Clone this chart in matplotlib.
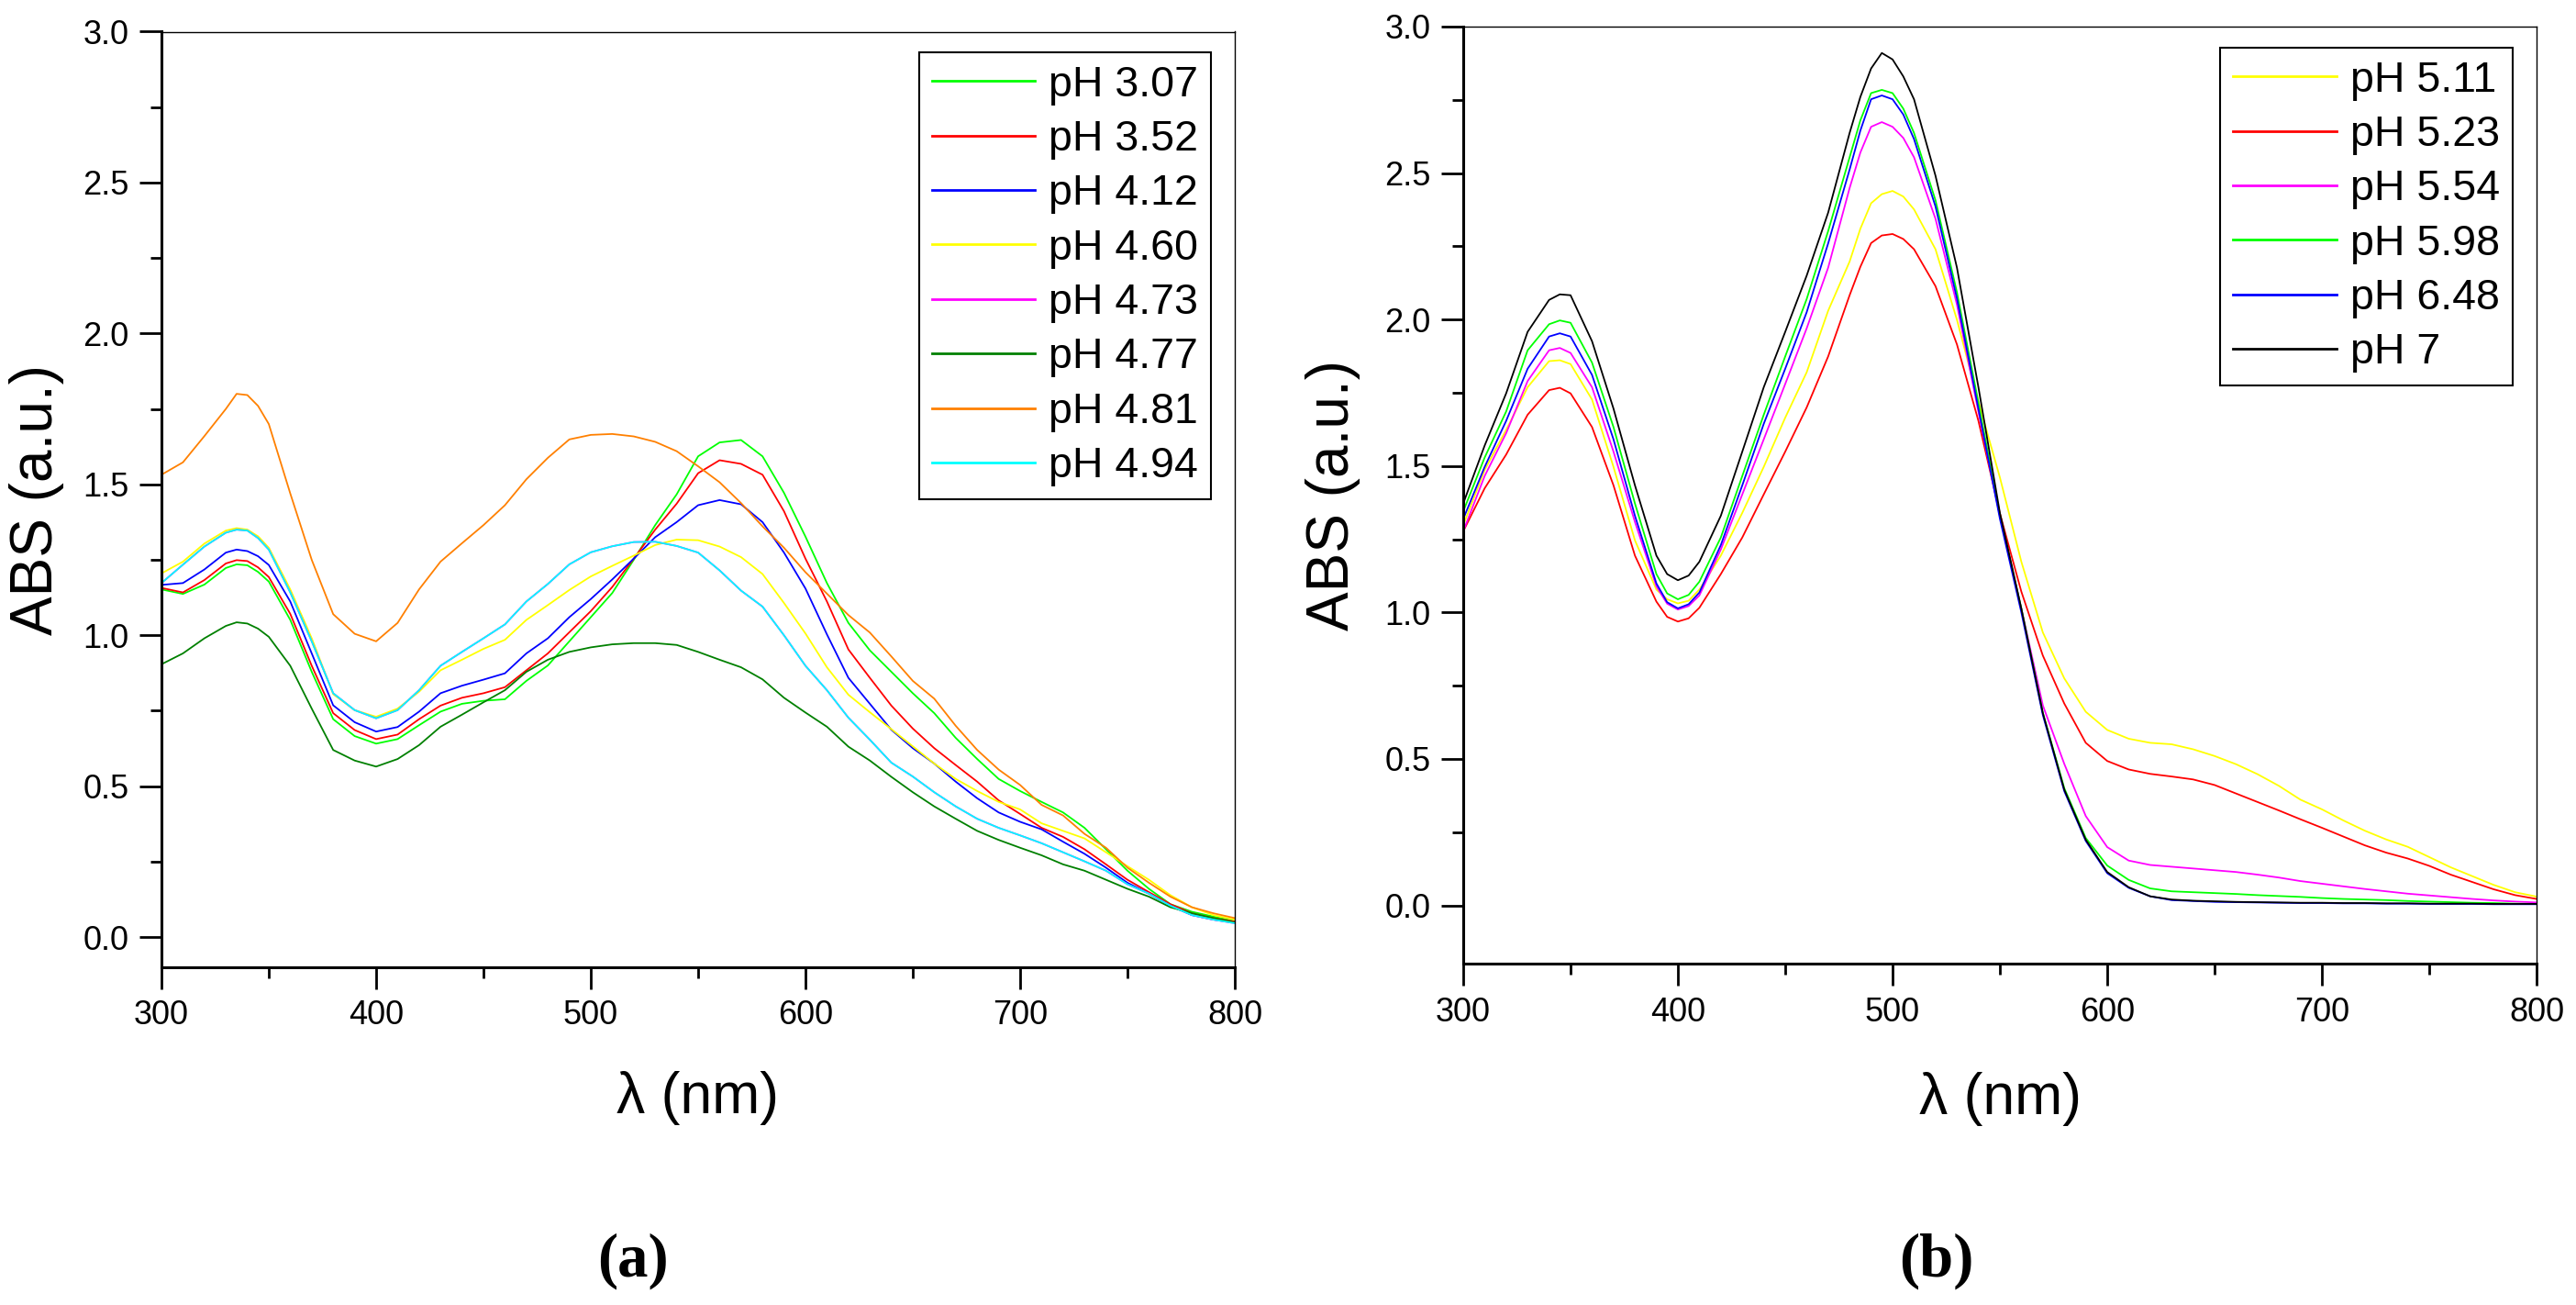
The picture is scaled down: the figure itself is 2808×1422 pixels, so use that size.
import matplotlib
matplotlib.use("Agg")
import matplotlib.pyplot as plt
from matplotlib.ticker import MultipleLocator

plt.rcParams["font.family"] = ["Liberation Sans", "DejaVu Sans"]

# ---- (a) acid range -------------------------------------------------
wl_a = [300, 310, 320, 330, 335, 340, 345, 350, 360, 370, 380, 390, 400,
        410, 420, 430, 440, 450, 460, 470, 480, 490, 500, 510, 520, 530,
        540, 550, 560, 570, 580, 590, 600, 610, 620, 630, 640, 650, 660,
        670, 680, 690, 700, 710, 720, 730, 740, 750, 760, 770, 780, 790, 800]

abs_307 = [1.152, 1.137, 1.168, 1.223, 1.235, 1.232, 1.210, 1.178, 1.051,
           0.879, 0.722, 0.666, 0.641, 0.656, 0.702, 0.747, 0.773, 0.783,
           0.788, 0.849, 0.900, 0.980, 1.060, 1.140, 1.250, 1.365, 1.467,
           1.593, 1.639, 1.647, 1.593, 1.472, 1.327, 1.173, 1.041, 0.950,
           0.879, 0.808, 0.742, 0.660, 0.590, 0.524, 0.484, 0.448, 0.413,
           0.362, 0.291, 0.220, 0.160, 0.109, 0.084, 0.068, 0.053]
abs_352 = [1.157, 1.142, 1.183, 1.238, 1.249, 1.246, 1.225, 1.193, 1.071,
           0.899, 0.742, 0.686, 0.656, 0.671, 0.722, 0.767, 0.793, 0.808,
           0.828, 0.884, 0.940, 1.010, 1.080, 1.160, 1.254, 1.350, 1.436,
           1.537, 1.580, 1.568, 1.532, 1.411, 1.254, 1.112, 0.953, 0.859,
           0.767, 0.691, 0.626, 0.570, 0.515, 0.453, 0.408, 0.362, 0.332,
           0.291, 0.241, 0.190, 0.149, 0.109, 0.079, 0.063, 0.051]
abs_412 = [1.167, 1.173, 1.218, 1.274, 1.284, 1.279, 1.262, 1.233, 1.112,
           0.940, 0.768, 0.712, 0.681, 0.696, 0.747, 0.808, 0.833, 0.853,
           0.874, 0.940, 0.990, 1.060, 1.120, 1.185, 1.254, 1.325, 1.375,
           1.431, 1.448, 1.434, 1.375, 1.274, 1.155, 1.003, 0.859, 0.773,
           0.687, 0.626, 0.575, 0.515, 0.460, 0.413, 0.382, 0.357, 0.316,
           0.276, 0.230, 0.180, 0.144, 0.104, 0.073, 0.058, 0.048]
abs_460 = [1.205, 1.244, 1.304, 1.347, 1.355, 1.350, 1.328, 1.290, 1.152,
           0.990, 0.805, 0.752, 0.730, 0.757, 0.813, 0.884, 0.919, 0.955,
           0.985, 1.051, 1.100, 1.150, 1.195, 1.230, 1.264, 1.299, 1.317,
           1.315, 1.294, 1.259, 1.203, 1.107, 1.006, 0.894, 0.803, 0.745,
           0.689, 0.632, 0.575, 0.524, 0.484, 0.448, 0.423, 0.377, 0.352,
           0.327, 0.281, 0.235, 0.190, 0.139, 0.099, 0.073, 0.058]
abs_494 = [1.173, 1.234, 1.294, 1.340, 1.350, 1.347, 1.322, 1.284, 1.142,
           0.980, 0.808, 0.752, 0.725, 0.752, 0.818, 0.899, 0.945, 0.990,
           1.036, 1.112, 1.170, 1.235, 1.275, 1.295, 1.309, 1.310, 1.296,
           1.274, 1.215, 1.148, 1.095, 1.000, 0.899, 0.818, 0.727, 0.654,
           0.578, 0.532, 0.480, 0.433, 0.392, 0.362, 0.337, 0.311, 0.281,
           0.251, 0.220, 0.175, 0.144, 0.104, 0.073, 0.058, 0.046]
# pH 4.73 is not visible in the source: it sits under the pH 4.94 trace
abs_473 = list(abs_494)
abs_477 = [0.904, 0.940, 0.990, 1.031, 1.043, 1.039, 1.022, 0.995, 0.899,
           0.757, 0.620, 0.585, 0.565, 0.590, 0.636, 0.697, 0.737, 0.778,
           0.818, 0.879, 0.919, 0.945, 0.960, 0.970, 0.974, 0.974, 0.968,
           0.945, 0.919, 0.894, 0.854, 0.793, 0.744, 0.697, 0.631, 0.585,
           0.531, 0.480, 0.433, 0.392, 0.352, 0.322, 0.296, 0.271, 0.241,
           0.220, 0.190, 0.160, 0.134, 0.099, 0.079, 0.063, 0.048]
abs_481 = [1.532, 1.573, 1.660, 1.750, 1.800, 1.796, 1.760, 1.700, 1.470,
           1.250, 1.070, 1.005, 0.980, 1.041, 1.152, 1.244, 1.305, 1.365,
           1.431, 1.517, 1.588, 1.649, 1.664, 1.667, 1.659, 1.641, 1.610,
           1.560, 1.507, 1.438, 1.361, 1.290, 1.209, 1.138, 1.067, 1.009,
           0.930, 0.849, 0.790, 0.700, 0.620, 0.555, 0.504, 0.438, 0.403,
           0.342, 0.296, 0.230, 0.180, 0.134, 0.099, 0.079, 0.063]

labels_a = ["pH 3.07", "pH 3.52", "pH 4.12", "pH 4.60",
            "pH 4.73", "pH 4.77", "pH 4.81", "pH 4.94"]
series_a = [abs_307, abs_352, abs_412, abs_460,
            abs_473, abs_477, abs_481, abs_494]
colors_a = ["#00ff00", "#ff0000", "#0000ff", "#ffff00",
            "#ff00ff", "#008000", "#ff8000", "#00ffff"]

# ---- (b) basic range ------------------------------------------------
wl_b = [300, 310, 320, 330, 340, 345, 350, 360, 370, 380, 390, 395, 400,
        405, 410, 420, 430, 440, 450, 460, 470, 480, 485, 490, 495, 500,
        505, 510, 520, 530, 540, 550, 560, 570, 580, 590, 600, 610, 620,
        630, 640, 650, 660, 670, 680, 690, 700, 710, 720, 730, 740, 750,
        760, 770, 780, 790, 800]

abs_511 = [1.298, 1.487, 1.623, 1.769, 1.858, 1.861, 1.848, 1.727, 1.497,
           1.246, 1.078, 1.045, 1.031, 1.040, 1.078, 1.194, 1.340, 1.497,
           1.665, 1.820, 2.030, 2.198, 2.310, 2.397, 2.428, 2.439, 2.420,
           2.376, 2.240, 1.999, 1.720, 1.461, 1.173, 0.932, 0.775, 0.661,
           0.599, 0.569, 0.555, 0.550, 0.533, 0.510, 0.482, 0.448, 0.408,
           0.361, 0.328, 0.290, 0.255, 0.225, 0.200, 0.165, 0.130, 0.100,
           0.070, 0.045, 0.030]
abs_523 = [1.277, 1.424, 1.539, 1.675, 1.759, 1.767, 1.748, 1.633, 1.434,
           1.194, 1.037, 0.985, 0.969, 0.980, 1.016, 1.131, 1.256, 1.403,
           1.549, 1.700, 1.874, 2.083, 2.180, 2.261, 2.287, 2.292, 2.275,
           2.240, 2.114, 1.915, 1.654, 1.338, 1.071, 0.853, 0.689, 0.555,
           0.493, 0.464, 0.449, 0.440, 0.430, 0.411, 0.382, 0.353, 0.324,
           0.294, 0.265, 0.235, 0.205, 0.180, 0.160, 0.135, 0.105, 0.080,
           0.055, 0.035, 0.022]
abs_554 = [1.277, 1.466, 1.612, 1.790, 1.895, 1.903, 1.886, 1.769, 1.549,
           1.309, 1.089, 1.030, 1.010, 1.022, 1.058, 1.215, 1.403, 1.591,
           1.780, 1.970, 2.177, 2.449, 2.570, 2.658, 2.674, 2.658, 2.620,
           2.554, 2.344, 2.051, 1.685, 1.330, 1.013, 0.683, 0.483, 0.305,
           0.199, 0.153, 0.138, 0.132, 0.126, 0.120, 0.114, 0.105, 0.095,
           0.083, 0.074, 0.065, 0.056, 0.048, 0.040, 0.034, 0.028, 0.022,
           0.017, 0.013, 0.010]
abs_598 = [1.345, 1.529, 1.686, 1.895, 1.984, 1.997, 1.989, 1.853, 1.633,
           1.372, 1.131, 1.065, 1.045, 1.060, 1.105, 1.256, 1.466, 1.675,
           1.874, 2.070, 2.302, 2.554, 2.680, 2.773, 2.784, 2.773, 2.720,
           2.637, 2.407, 2.093, 1.716, 1.330, 1.013, 0.657, 0.400, 0.230,
           0.136, 0.087, 0.058, 0.048, 0.045, 0.042, 0.039, 0.035, 0.032,
           0.029, 0.025, 0.022, 0.020, 0.018, 0.015, 0.013, 0.011, 0.009,
           0.008, 0.006, 0.005]
abs_648 = [1.319, 1.497, 1.654, 1.832, 1.942, 1.953, 1.942, 1.811, 1.591,
           1.330, 1.099, 1.035, 1.014, 1.028, 1.068, 1.230, 1.434, 1.644,
           1.832, 2.025, 2.260, 2.512, 2.645, 2.752, 2.765, 2.752, 2.700,
           2.616, 2.386, 2.072, 1.695, 1.320, 1.000, 0.650, 0.390, 0.220,
           0.110, 0.060, 0.031, 0.018, 0.015, 0.012, 0.011, 0.010, 0.009,
           0.008, 0.008, 0.007, 0.007, 0.006, 0.006, 0.005, 0.005, 0.005,
           0.004, 0.004, 0.004]
abs_700 = [1.372, 1.570, 1.748, 1.958, 2.067, 2.086, 2.083, 1.926, 1.696,
           1.434, 1.194, 1.131, 1.110, 1.126, 1.173, 1.330, 1.549, 1.769,
           1.958, 2.150, 2.365, 2.637, 2.760, 2.857, 2.910, 2.888, 2.830,
           2.752, 2.491, 2.177, 1.769, 1.340, 1.013, 0.657, 0.395, 0.224,
           0.114, 0.062, 0.031, 0.020, 0.016, 0.014, 0.012, 0.011, 0.010,
           0.009, 0.009, 0.008, 0.008, 0.007, 0.007, 0.006, 0.006, 0.006,
           0.005, 0.005, 0.005]

labels_b = ["pH 5.11", "pH 5.23", "pH 5.54", "pH 5.98", "pH 6.48", "pH 7"]
series_b = [abs_511, abs_523, abs_554, abs_598, abs_648, abs_700]
colors_b = ["#ffff00", "#ff0000", "#ff00ff", "#00ff00", "#0000ff", "#000000"]

W, H = 2808, 1422
fig = plt.figure(figsize=(W / 100, H / 100), dpi=100)
fig.patch.set_facecolor("white")

ax_a = fig.add_axes([176 / W, 1 - 1054 / H, 1170 / W, 1019.5 / H])
ax_b = fig.add_axes([1595 / W, 1 - 1050.4 / H, 1170 / W, 1021.4 / H])


def habiller(ax, wl, series, labels, colors, ymin, ylab_x, xlab_y, leg_anchor):
    """Trace les courbes et applique le style type Origin."""
    for vals, lab, col in zip(series, labels, colors):
        ax.plot(wl, vals, color=col, lw=1.3, label=lab)

    ax.set_xlim(300, 800)
    ax.set_ylim(ymin, 3.0)
    ax.xaxis.set_major_locator(MultipleLocator(100))
    ax.xaxis.set_minor_locator(MultipleLocator(50))
    ax.yaxis.set_major_locator(MultipleLocator(0.5))
    ax.yaxis.set_minor_locator(MultipleLocator(0.25))
    ax.yaxis.set_major_formatter(plt.FormatStrFormatter("%.1f"))

    # axes gauche/bas épais, haut/droite fins, pas de graduations en haut
    ax.spines["left"].set_linewidth(2.2)
    ax.spines["bottom"].set_linewidth(2.2)
    ax.spines["top"].set_linewidth(1.0)
    ax.spines["right"].set_linewidth(1.0)
    ax.tick_params(which="major", direction="out", length=17.5, width=2.0,
                   labelsize=26, pad=8, top=False, right=False)
    ax.tick_params(which="minor", direction="out", length=8.8, width=2.0,
                   top=False, right=False)

    ax.set_xlabel("λ (nm)", fontsize=45)
    ax.set_ylabel("ABS (a.u.)", fontsize=46)
    ax.xaxis.set_label_coords(0.5, xlab_y)
    ax.yaxis.set_label_coords(ylab_x, 0.5)
    ax.xaxis.label.set_verticalalignment("center")
    ax.yaxis.label.set_verticalalignment("center")

    leg = ax.legend(loc="upper right", bbox_to_anchor=leg_anchor,
                    borderaxespad=0, fontsize=33.5, handlelength=2.42,
                    handletextpad=0.32, labelspacing=0.33, borderpad=0.3,
                    fancybox=False, edgecolor="black", framealpha=1)
    leg.get_frame().set_linewidth(1.5)
    for ligne in leg.get_lines():
        ligne.set_linewidth(2.0)


habiller(ax_a, wl_a, series_a, labels_a, colors_a, -0.1,
         -0.116, -0.140, (0.9778, 0.9782))
habiller(ax_b, wl_b, series_b, labels_b, colors_b, -0.2,
         -0.121, -0.1437, (0.9778, 0.9778))

# lettres des panneaux
for x, txt in [(690 / W, "(a)"), (2111 / W, "(b)")]:
    fig.text(x, 1 - 1374 / H, txt, ha="center", va="center",
             fontsize=48, fontweight="bold",
             family=["Liberation Serif", "DejaVu Serif"])

fig.savefig("out.png", dpi=100, facecolor="white")
